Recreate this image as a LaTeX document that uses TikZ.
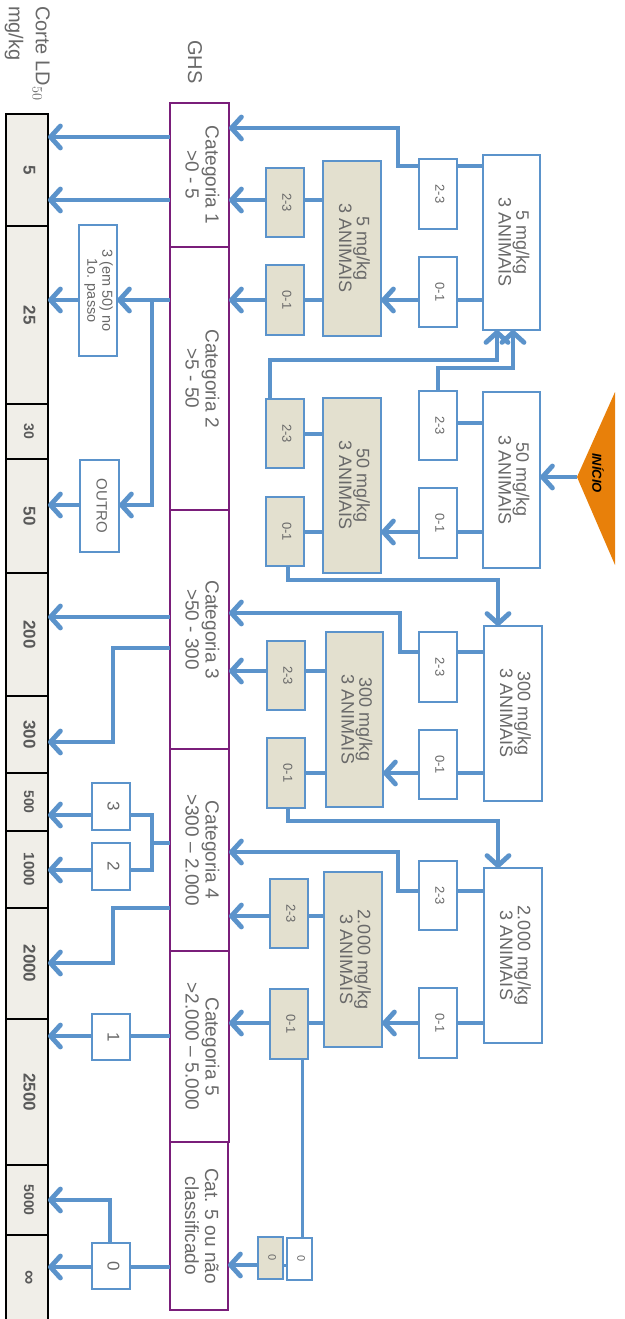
\documentclass[tikz,border=0pt]{standalone}
\usepackage{fontspec}
\setmainfont{Liberation Sans}
\usepackage{graphicx}
\usetikzlibrary{arrows.meta}
\definecolor{lblue}{RGB}{91,147,203}
\definecolor{gfill}{RGB}{227,224,207}
\definecolor{cpurp}{RGB}{122,30,122}
\definecolor{ldfill}{RGB}{240,238,232}
\definecolor{tgray}{RGB}{105,105,105}
\definecolor{orng}{RGB}{232,128,10}
\newcommand\rt[1]{\rotatebox{-90}{\begin{tabular}{@{}c@{}}#1\end{tabular}}}
\newcommand\bx[7]{%
  \pgfmathsetmacro\bxcx{(#3+#4)/2}%
  \pgfmathsetmacro\bxcy{(#5+#6)/2}%
  \pgfmathsetmacro\bxw{#4-#3}%
  \pgfmathsetmacro\bxh{#6-#5}%
  \node[#1,minimum width=\bxw pt,minimum height=\bxh pt] (#2) at (\bxcx,\bxcy) {\rt{#7}};}
\tikzset{
  basebox/.style={rectangle,inner sep=0pt,outer sep=0pt,text=tgray},
  wbig/.style={basebox,draw=lblue,line width=1.5pt,fill=white,font=\fontsize{18}{17}\selectfont},
  gbig/.style={wbig,fill=gfill},
  wsm/.style={basebox,draw=lblue,line width=1.5pt,fill=white,font=\fontsize{13}{13}\selectfont},
  gsm/.style={wsm,fill=gfill},
  cat/.style={basebox,draw=cpurp,line width=1.5pt,fill=white,font=\fontsize{19}{20}\selectfont},
  ld/.style={basebox,draw=black,line width=2pt,fill=ldfill,text=tgray!85!black,font=\bfseries\fontsize{17}{17}\selectfont},
  lbox/.style={basebox,draw=lblue,line width=1.5pt,fill=white,font=\fontsize{17}{17}\selectfont},
  ln/.style={draw=lblue,line width=4.8pt},
  ar/.style={ln,-{Straight Barb[length=10pt,width=22pt,round]}},
}
\begin{document}
\begin{tikzpicture}[x=1pt,y=-1pt]
\useasboundingbox (0,0) rectangle (624,1319);
\fill[white] (0,0) rectangle (624,1319);

% ---- LD50 column
\bx{ld}{ld5}{6}{48}{114}{226}{5}
\bx{ld}{ld25}{6}{48}{226}{404}{25}
\bx{ld,font=\bfseries\fontsize{14}{14}\selectfont}{ld30}{6}{48}{404}{459}{30}
\bx{ld}{ld50}{6}{48}{459}{573}{50}
\bx{ld}{ld200}{6}{48}{573}{696}{200}
\bx{ld}{ld300}{6}{48}{696}{773}{300}
\bx{ld,font=\bfseries\fontsize{14}{14}\selectfont}{ld500}{6}{48}{773}{831}{500}
\bx{ld,font=\bfseries\fontsize{15}{15}\selectfont}{ld1000}{6}{48}{831}{908}{1000}
\bx{ld}{ld2000}{6}{48}{908}{1019}{2000}
\bx{ld}{ld2500}{6}{48}{1019}{1165}{2500}
\bx{ld,font=\bfseries\fontsize{14}{14}\selectfont}{ld5000}{6}{48}{1165}{1235}{5000}
\bx{ld,font=\bfseries\fontsize{20}{20}\selectfont}{ldinf}{6}{48}{1235}{1321}{∞}

% ---- headers
\node[rotate=-90,anchor=north west,align=left,text=tgray,font=\fontsize{20}{27}\selectfont,inner sep=0pt] (hdr) at (50,6) {Corte LD$_{50}$\\mg/kg};
\node[rotate=-90,text=tgray,font=\fontsize{20}{20}\selectfont,inner sep=0pt] (ghs) at (195,62) {GHS};

% ---- categories
\bx{cat}{c1}{170}{229}{103}{247}{Categoria 1\\>0 - 5}
\bx{cat}{c2}{170}{229}{247}{510}{Categoria 2\\>5 - 50}
\bx{cat}{c3}{170}{229}{510}{749}{Categoria 3\\>50 - 300}
\bx{cat}{c4}{170}{229}{749}{951}{Categoria 4\\>300 – 2.000}
\bx{cat}{c5}{170}{229}{951}{1142}{Categoria 5\\>2.000 – 5.000}
\bx{cat}{c6}{170}{228}{1142}{1310}{Cat. 5 ou não\\classificado}

% ---- left small boxes
\bx{lbox,font=\fontsize{14.5}{15}\selectfont}{em}{79}{117}{225}{356}{3 (em 50) no\\1o. passo}
\bx{lbox,font=\fontsize{15}{15}\selectfont}{outro}{80}{119}{460}{552}{OUTRO}
\bx{lbox}{l3}{92}{130}{783}{830}{3}
\bx{lbox}{l2}{92}{130}{843}{890}{2}
\bx{lbox}{l1}{92}{130}{1014}{1060}{1}
\bx{lbox}{l0}{92}{130}{1243}{1289}{0}

% ---- main white boxes
\bx{wbig}{a1}{483}{540}{155}{330}{5 mg/kg\\3 ANIMAIS}
\bx{wbig}{a2}{483}{540}{392}{568}{50 mg/kg\\3 ANIMAIS}
\bx{wbig}{a3}{484}{542}{626}{801}{300 mg/kg\\3 ANIMAIS}
\bx{wbig}{a4}{484}{542}{868}{1043}{2.000 mg/kg\\3 ANIMAIS}
% small white
\bx{wsm}{a1h}{419}{457}{159}{229}{2-3}
\bx{wsm}{a1l}{419}{457}{257}{327}{0-1}
\bx{wsm}{a2h}{419}{457}{391}{460}{2-3}
\bx{wsm}{a2l}{419}{457}{488}{558}{0-1}
\bx{wsm}{a3h}{419}{457}{632}{702}{2-3}
\bx{wsm}{a3l}{419}{457}{730}{799}{0-1}
\bx{wsm}{a4h}{419}{457}{861}{930}{2-3}
\bx{wsm}{a4l}{419}{457}{988}{1058}{0-1}
% grey big
\bx{gbig}{b1}{323}{381}{161}{336}{5 mg/kg\\3 ANIMAIS}
\bx{gbig}{b2}{323}{381}{398}{573}{50 mg/kg\\3 ANIMAIS}
\bx{gbig}{b3}{326}{383}{632}{807}{300 mg/kg\\3 ANIMAIS}
\bx{gbig}{b4}{324}{382}{872}{1047}{2.000 mg/kg\\3 ANIMAIS}
% grey small
\bx{gsm}{b1h}{266}{304}{168}{237}{2-3}
\bx{gsm}{b1l}{266}{304}{265}{335}{0-1}
\bx{gsm}{b2h}{266}{304}{399}{468}{2-3}
\bx{gsm}{b2l}{266}{304}{497}{566}{0-1}
\bx{gsm}{b3h}{267}{305}{641}{710}{2-3}
\bx{gsm}{b3l}{267}{305}{738}{808}{0-1}
\bx{gsm}{b4h}{270}{308}{879}{948}{2-3}
\bx{gsm}{b4l}{270}{308}{989}{1059}{0-1}
% zero boxes
\bx{wsm,font=\fontsize{11}{11}\selectfont}{zw}{287}{312}{1238}{1280}{0}
\bx{gsm,font=\fontsize{11}{11}\selectfont}{zg}{258}{283}{1237}{1279}{0}

% ---- INICIO
\coordinate (ini) at (577,477);
\fill[orng] (ini) -- (615,392) -- (615,565) -- cycle;
\node[rotate=-90,font=\bfseries\itshape\fontsize{13}{13}\selectfont,inner sep=0pt] (initxt) at (598,473) {INÍCIO};

% ---- connectors right part
\draw[ln] (a1.west|-0,166) -- (a1h.east|-0,166);
\draw[ar] (a1h.west|-0,166) -- (398,166) -- (398,128) -- (c1.east|-0,128);
\draw[ln] (a1.west|-0,300) -- (a1l.east|-0,300);
\draw[ar] (a1l.west|-0,300) -- (b1.east|-0,300);
\draw[ln] (b1.west|-0,200) -- (b1h.east|-0,200);
\draw[ar] (b1h.west|-0,200) -- (c1.east|-0,200);
\draw[ln] (b1.west|-0,300) -- (b1l.east|-0,300);
\draw[ar] (b1l.west|-0,300) -- (c2.east|-0,300);

\draw[ar] (ini) -- (a2.east|-ini);
\draw[ln] (a2.west|-0,423) -- (a2h.east|-0,423);
\draw[ar] (a2h.north-|438,0) -- (438,368) -- (513,368) -- (a1.south-|513,0);
\draw[ln] (a2.west|-0,532) -- (a2l.east|-0,532);
\draw[ar] (a2l.west|-0,532) -- (b2.east|-0,532);
\draw[ln] (b2.west|-0,434) -- (b2h.east|-0,434);
\draw[ar] (b2h.north-|270,0) -- (270,360) -- (497,360) -- (a1.south-|497,0);
\draw[ln] (b2.west|-0,532) -- (b2l.east|-0,532);
\draw[ar] (b2l.south-|288,0) -- (288,580) -- (498,580) -- (a3.north-|498,0);

\draw[ln] (a3.west|-0,652) -- (a3h.east|-0,652);
\draw[ar] (a3h.west|-0,652) -- (400,652) -- (400,613) -- (c3.east|-0,613);
\draw[ln] (a3.west|-0,773) -- (a3l.east|-0,773);
\draw[ar] (a3l.west|-0,773) -- (b3.east|-0,773);
\draw[ln] (b3.west|-0,671) -- (b3h.east|-0,671);
\draw[ar] (b3h.west|-0,671) -- (c3.east|-0,671);
\draw[ln] (b3.west|-0,773) -- (b3l.east|-0,773);
\draw[ar] (b3l.south-|288,0) -- (288,821) -- (498,821) -- (a4.north-|498,0);

\draw[ln] (a4.west|-0,891) -- (a4h.east|-0,891);
\draw[ar] (a4h.west|-0,891) -- (398,891) -- (398,852) -- (c4.east|-0,852);
\draw[ln] (a4.west|-0,1023) -- (a4l.east|-0,1023);
\draw[ar] (a4l.west|-0,1023) -- (b4.east|-0,1023);
\draw[ln] (b4.west|-0,916) -- (b4h.east|-0,916);
\draw[ar] (b4h.west|-0,916) -- (c4.east|-0,916);
\draw[ln] (b4.west|-0,1023) -- (b4l.east|-0,1023);
\draw[ar] (b4l.west|-0,1023) -- (c5.east|-0,1023);
\draw[ln,line width=3pt] (b4l.south-|302,0) -- (zw.north-|302,0);
\draw[ln,line width=3pt] (zw.west|-0,1265) -- (zg.east|-0,1265);
\draw[ar] (zg.west|-0,1265) -- (c6.east|-0,1265);

% ---- connectors left part
\draw[ar] (c1.west|-0,137) -- (ld5.east|-0,137);
\draw[ar] (c1.west|-0,200) -- (ld5.east|-0,200);
\draw[ar] (c2.west|-0,300) -- (em.east|-0,300);
\draw[ar] (c2.west|-0,300) -- (152,300) -- (152,505) -- (outro.east|-0,505);
\draw[ar] (em.west|-0,300) -- (ld25.east|-0,300);
\draw[ar] (outro.west|-0,505) -- (ld50.east|-0,505);
\draw[ar] (c3.west|-0,617) -- (ld200.east|-0,617);
\draw[ar] (c3.west|-0,648) -- (113,648) -- (113,742) -- (ld300.east|-0,742);
\draw[ln] (c4.west|-0,843) -- (152,843);
\draw[ln] (l3.east|-0,815) -- (152,815) -- (152,870) -- (l2.east|-0,870);
\draw[ar] (l3.west|-0,815) -- (ld500.east|-0,815);
\draw[ar] (l2.west|-0,870) -- (ld1000.east|-0,870);
\draw[ar] (c4.west|-0,908) -- (113,908) -- (113,963) -- (ld2000.east|-0,963);
\draw[ln] (c5.west|-0,1036) -- (l1.east|-0,1036);
\draw[ar] (l1.west|-0,1036) -- (ld2500.east|-0,1036);
\draw[ln] (c6.west|-0,1267) -- (l0.east|-0,1267);
\draw[ar] (l0.west|-0,1267) -- (ldinf.east|-0,1267);
\draw[ar] (l0.north-|110,0) -- (110,1200) -- (ld5000.east|-0,1200);
\end{tikzpicture}
\end{document}
